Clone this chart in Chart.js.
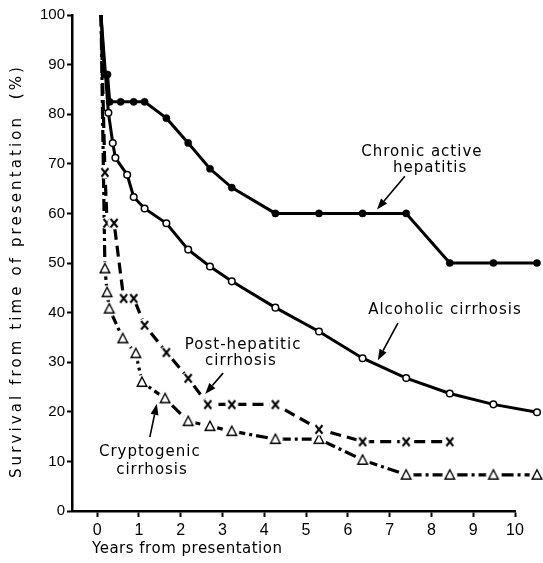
<!DOCTYPE html>
<html><head><meta charset="utf-8">
<script src="https://cdn.jsdelivr.net/npm/chart.js@4.4.0/dist/chart.umd.min.js"></script>
<style>html,body{margin:0;padding:0;background:#fff;}canvas{display:block;}</style>
</head><body>
<canvas id="c" width="543" height="563" style="width:543px;height:563px"></canvas>
<script>
// ---- data ----
const xTickValues = [0,1,2,3,4,5,6,7,8,9,10];
const yTickValues = [0,10,20,30,40,50,60,70,80,90,100];

const chronicYears    = [0,0.08,0.15,0.2,0.45,0.75,1,1.5,2,2.5,3,4,5,6,7,8,9,10];
const chronicSurvival = [100,88,88,82.5,82.5,82.5,82.5,79.2,74.2,69,65.2,60,60,60,60,50,50,50];

const alcoholicYears    = [0,0.17,0.27,0.33,0.6,0.75,1,1.5,2,2.5,3,4,5,6,7,8,9,10];
const alcoholicSurvival = [100,80.3,74.2,71.2,67.8,63.3,61,58,52.7,49.3,46.3,41,36.2,30.8,26.8,23.7,21.5,19.9];

const postHepYears    = [0,0.09,0.14,0.3,0.52,0.75,1,1.5,2,2.45,3,4,5,6,7,8];
const postHepSurvival = [100,68.3,58.1,58.1,42.9,42.9,37.5,32,26.8,21.5,21.5,21.5,16.5,14,14,14];

const cryptoYears    = [0,0.09,0.14,0.19,0.5,0.8,0.94,1.47,2,2.5,3,4,5,6,7,8,9,10];
const cryptoSurvival = [100,48.9,44.1,40.8,34.8,31.8,26,22.7,18.1,17.1,16.1,14.5,14.5,10.3,7.3,7.3,7.3,7.3];

const seriesNames = ['Chronic active hepatitis','Alcoholic cirrhosis','Post-hepatitic cirrhosis','Cryptogenic cirrhosis'];

const xTitle = 'Years from presentation';
const yTitle = 'Survival from time of presentation  (%)';

// annotation texts (lines) and anchors in data units
const annotationLines = [
  ['Chronic active','hepatitis'],
  ['Alcoholic cirrhosis'],
  ['Post-hepatitic','cirrhosis'],
  ['Cryptogenic','cirrhosis']
];
const annotationTextAt = [[[7.36,72.4],[7.55,69.2]], [[7.89,40.5]], [[3.26,33.5],[3.21,30.2]], [[1.12,11.9],[1.17,8.3]]];
const arrowTail = [[6.97,67.5],[6.81,37.9],[2.80,27.8],[1.12,14.9]];
const arrowTip  = [[6.33,60.8],[6.35,30.4],[2.39,23.6],[1.28,21.6]];

// ---- marker images ----
function crossMarker(){
  const c=document.createElement('canvas'); c.width=16; c.height=16;
  const g=c.getContext('2d');
  g.fillStyle='#fff'; g.beginPath(); g.arc(8,8,6.5,0,Math.PI*2); g.fill();
  g.strokeStyle='#000'; g.lineWidth=2; g.lineCap='butt';
  g.beginPath(); g.moveTo(4.5,4); g.lineTo(11.5,12.5); g.moveTo(11.5,4); g.lineTo(4.5,12.5); g.stroke();
  return c;
}
function triMarker(){
  const c=document.createElement('canvas'); c.width=18; c.height=18;
  const g=c.getContext('2d');
  g.fillStyle='#fff'; g.beginPath(); g.arc(9,9.5,7.5,0,Math.PI*2); g.fill();
  g.strokeStyle='#000'; g.lineWidth=1.4; g.lineJoin='miter';
  g.beginPath(); g.moveTo(9,4); g.lineTo(13.8,13.2); g.lineTo(4.2,13.2); g.closePath(); g.stroke();
  return c;
}
const crossImg = crossMarker();
const triImg = triMarker();

function pts(xs, ys){ return xs.map((t,i)=>({x:t, y:ys[i]})); }
const noFirst = r => (ctx => ctx.dataIndex===0 ? 0 : r);

const common = {xAxisID:'xd', yAxisID:'y', borderColor:'#000', tension:0, fill:false, clip:false,
  pointHoverRadius:26, pointHitRadius:0};

const datasets = [
  Object.assign({}, common, {label:seriesNames[0], data:pts(chronicYears,chronicSurvival), borderWidth:3,
    pointStyle:'circle', pointRadius:noFirst(3.6), pointBackgroundColor:'#000', pointBorderColor:'#000', pointBorderWidth:0.5}),
  Object.assign({}, common, {label:seriesNames[1], data:pts(alcoholicYears,alcoholicSurvival), borderWidth:3,
    pointStyle:'circle', pointRadius:noFirst(3.3), pointBackgroundColor:'#fff', pointBorderColor:'#000', pointBorderWidth:1.5}),
  Object.assign({}, common, {label:seriesNames[2], data:pts(postHepYears,postHepSurvival), borderWidth:3.2,
    borderDash:[11,6], pointStyle:crossImg, pointRadius:noFirst(4)}),
  Object.assign({}, common, {label:seriesNames[3], data:pts(cryptoYears,cryptoSurvival), borderWidth:3.2,
    borderDash:[12,4,3,4], pointStyle:triImg, pointRadius:noFirst(4)})
];

const FONT = 'DejaVu Sans';

const decor = {
  id:'decor',
  afterDatasetsDraw(chart){
    const ctx = chart.ctx, xs = chart.scales.xd, ys = chart.scales.y;
    ctx.save();
    ctx.fillStyle='#000'; ctx.strokeStyle='#000';
    ctx.font = '15px "'+FONT+'"';
    ctx.letterSpacing = '1px';
    ctx.textAlign='center'; ctx.textBaseline='middle';
    annotationLines.forEach((lines,i)=>{
      lines.forEach((txt,j)=>{
        const p = annotationTextAt[i][j];
        ctx.fillText(txt, xs.getPixelForValue(p[0]), ys.getPixelForValue(p[1]));
      });
      const x0=xs.getPixelForValue(arrowTail[i][0]), y0=ys.getPixelForValue(arrowTail[i][1]);
      const x1=xs.getPixelForValue(arrowTip[i][0]),  y1=ys.getPixelForValue(arrowTip[i][1]);
      const a=Math.atan2(y1-y0,x1-x0), L=11, W=4;
      const bx=x1-L*Math.cos(a), by=y1-L*Math.sin(a);
      ctx.lineWidth=1.6;
      ctx.beginPath(); ctx.moveTo(x0,y0); ctx.lineTo(bx,by); ctx.stroke();
      ctx.beginPath(); ctx.moveTo(x1,y1);
      ctx.lineTo(bx+W*Math.sin(a), by-W*Math.cos(a));
      ctx.lineTo(bx-W*Math.sin(a), by+W*Math.cos(a));
      ctx.closePath(); ctx.fill();
    });
    // axis titles
    ctx.letterSpacing = '0.5px';
    ctx.font = '15px "'+FONT+'"';
    ctx.textAlign='left'; ctx.textBaseline='middle';
    ctx.fillText(xTitle, 92, 549);
    ctx.save();
    ctx.translate(17, 271); ctx.rotate(-Math.PI/2);
    ctx.letterSpacing = '3.1px';
    ctx.textAlign='center';
    ctx.fillText(yTitle, 0, 0);
    ctx.restore();
    ctx.restore();
  }
};

new Chart(document.getElementById('c'), {
  type:'line',
  data:{datasets},
  plugins:[decor],
  options:{
    responsive:false, animation:false, events:[],
    layout:{autoPadding:false, padding:{left:0, top:15, right:28, bottom:0}},
    plugins:{legend:{display:false}, tooltip:{enabled:false}, title:{display:false}},
    scales:{
      x:{type:'linear', position:'bottom', min:-0.6, max:10,
        afterBuildTicks:s=>{s.ticks = xTickValues.map(v=>({value:v}));},
        afterFit:s=>{s.height=52;},
        ticks:{color:'#000', font:{family:'Liberation Sans', size:16}, padding:4, maxRotation:0, autoSkip:false},
        grid:{drawOnChartArea:false, drawTicks:true, tickLength:6, tickWidth:2, color:'#000'},
        border:{display:true, color:'#000', width:2.5}
      },
      xd:{type:'linear', display:false, min:-0.665, max:9.496},
      y:{type:'linear', position:'left', min:0, max:100,
        afterBuildTicks:s=>{s.ticks = yTickValues.map(v=>({value:v}));},
        afterFit:s=>{s.width=72;},
        ticks:{color:'#000', font:{family:'Liberation Sans', size:15}, padding:2},
        grid:{drawOnChartArea:false, drawTicks:true, tickLength:5, tickWidth:2, color:'#000'},
        border:{display:true, color:'#000', width:2.5}
      }
    }
  }
});
</script>
</body></html>
